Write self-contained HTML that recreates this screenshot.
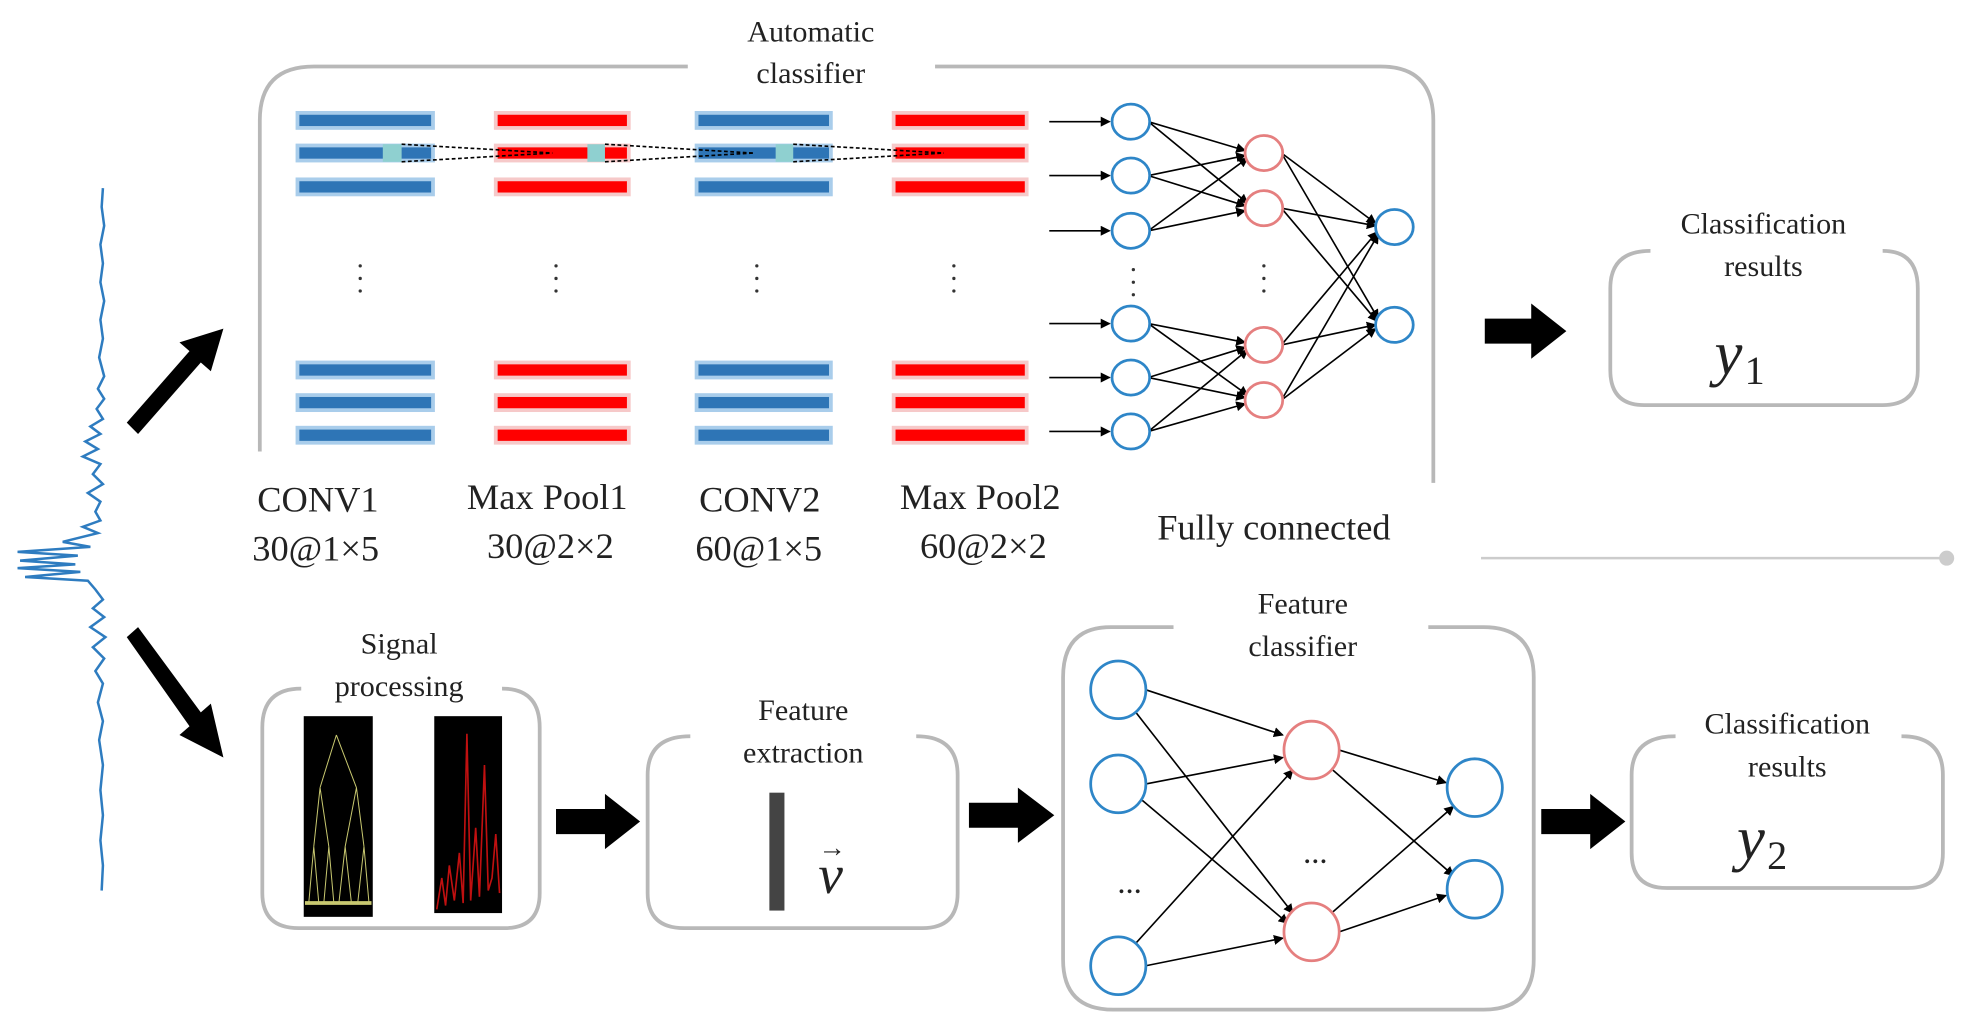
<!DOCTYPE html>
<html><head><meta charset="utf-8"><style>
html,body{margin:0;padding:0;background:#fff;}
svg{display:block;}
svg text{font-family:"Liberation Serif","DejaVu Serif","Times New Roman",serif !important;fill:#222;}
</style></head><body>
<svg width="1968" height="1036" viewBox="0 0 1568 826" preserveAspectRatio="none" xmlns="http://www.w3.org/2000/svg" font-family="Liberation Serif, DejaVu Serif, serif">
<defs>
<marker id="ah" markerWidth="8" markerHeight="8" refX="7" refY="4" orient="auto" markerUnits="userSpaceOnUse"><path d="M0,0 L8,4 L0,8 z" fill="#000"/></marker>
</defs>
<g fill="none" stroke="#b8b8b8" stroke-width="3">
<path d="M548,53 H250 Q207,53 207,96 V360"/>
<path d="M745,53 H1100 Q1142,53 1142,96 V385"/>
<path d="M1315,200 Q1283,200 1283,230 V295 Q1283,323 1310,323 H1500 Q1528,323 1528,295 V230 Q1528,200 1500,200"/>
<path d="M240,549 Q209,549 209,580 V712 Q209,740 238,740 H402 Q430,740 430,712 V580 Q430,549 400,549"/>
<path d="M550,587 Q516,587 516,618 V712 Q516,740 545,740 H735 Q763,740 763,712 V618 Q763,587 730,587"/>
<path d="M935,500 H885 Q847,500 847,540 V765 Q847,805 887,805 H1182 Q1222,805 1222,765 V540 Q1222,500 1182,500 H1138"/>
<path d="M1335,587 Q1300,587 1300,618 V680 Q1300,708 1328,708 H1520 Q1548,708 1548,680 V618 Q1548,587 1515,587"/>
</g>
<line x1="1180" y1="445" x2="1550" y2="445" stroke="#ccc" stroke-width="2"/>
<circle cx="1551" cy="445" r="6" fill="#ccc"/>
<g font-size="24" text-anchor="middle">
<text x="646" y="33">Automatic</text><text x="646" y="66">classifier</text>
<text x="1405" y="186">Classification</text><text x="1405" y="220">results</text>
<text x="318" y="521">Signal</text><text x="318" y="555">processing</text>
<text x="640" y="574">Feature</text><text x="640" y="608">extraction</text>
<text x="1038" y="489">Feature</text><text x="1038" y="523">classifier</text>
<text x="1424" y="585">Classification</text><text x="1424" y="619">results</text>
</g>
<g stroke-width="3">
<g fill="#2e75b6" stroke="#a9cdeb">
<rect x="237" y="90" width="108" height="12"/><rect x="237" y="116" width="108" height="12"/><rect x="237" y="143" width="108" height="12"/>
<rect x="237" y="289" width="108" height="12"/><rect x="237" y="315" width="108" height="12"/><rect x="237" y="341" width="108" height="12"/>
<rect x="555" y="90" width="107" height="12"/><rect x="555" y="116" width="107" height="12"/><rect x="555" y="143" width="107" height="12"/>
<rect x="555" y="289" width="107" height="12"/><rect x="555" y="315" width="107" height="12"/><rect x="555" y="341" width="107" height="12"/>
</g>
<g fill="#ff0000" stroke="#f6c9c9">
<rect x="395" y="90" width="106" height="12"/><rect x="395" y="116" width="106" height="12"/><rect x="395" y="143" width="106" height="12"/>
<rect x="395" y="289" width="106" height="12"/><rect x="395" y="315" width="106" height="12"/><rect x="395" y="341" width="106" height="12"/>
<rect x="712" y="90" width="106" height="12"/><rect x="712" y="116" width="106" height="12"/><rect x="712" y="143" width="106" height="12"/>
<rect x="712" y="289" width="106" height="12"/><rect x="712" y="315" width="106" height="12"/><rect x="712" y="341" width="106" height="12"/>
</g>
</g>
<g fill="#8fd0d0"><rect x="305" y="115" width="15" height="14"/><rect x="468" y="115" width="14" height="14"/><rect x="618" y="115" width="14" height="14"/></g>
<g stroke="#000" stroke-width="1.3" stroke-dasharray="3,2">
<line x1="320" y1="115" x2="440" y2="122"/><line x1="320" y1="129" x2="440" y2="122"/>
<line x1="482" y1="115" x2="600" y2="122"/><line x1="482" y1="129" x2="600" y2="122"/>
<line x1="632" y1="115" x2="752" y2="122"/><line x1="632" y1="129" x2="752" y2="122"/>
</g>
<g fill="#333">
<circle cx="287" cy="212" r="1.3"/><circle cx="287" cy="222" r="1.3"/><circle cx="287" cy="232" r="1.3"/>
<circle cx="443" cy="212" r="1.3"/><circle cx="443" cy="222" r="1.3"/><circle cx="443" cy="232" r="1.3"/>
<circle cx="603" cy="212" r="1.3"/><circle cx="603" cy="222" r="1.3"/><circle cx="603" cy="232" r="1.3"/>
<circle cx="760" cy="212" r="1.3"/><circle cx="760" cy="222" r="1.3"/><circle cx="760" cy="232" r="1.3"/>
<circle cx="903" cy="215" r="1.3"/><circle cx="903" cy="225" r="1.3"/><circle cx="903" cy="235" r="1.3"/>
<circle cx="1007" cy="212" r="1.3"/><circle cx="1007" cy="222" r="1.3"/><circle cx="1007" cy="232" r="1.3"/>
</g>
<g font-size="29">
<text x="205" y="408">CONV1</text><text x="201" y="447">30@1×5</text>
<text x="372" y="406">Max Pool1</text><text x="388" y="445">30@2×2</text>
<text x="557" y="408">CONV2</text><text x="554" y="447">60@1×5</text>
<text x="717" y="406">Max Pool2</text><text x="733" y="445">60@2×2</text>
<text x="922" y="430">Fully connected</text>
</g>
<g stroke="#000" stroke-width="1.3" marker-end="url(#ah)">
<line x1="836" y1="97" x2="884" y2="97"/><line x1="836" y1="140" x2="884" y2="140"/><line x1="836" y1="184" x2="884" y2="184"/>
<line x1="836" y1="258" x2="884" y2="258"/><line x1="836" y1="301" x2="884" y2="301"/><line x1="836" y1="344" x2="884" y2="344"/>
<line x1="915" y1="97" x2="992" y2="120"/><line x1="915" y1="97" x2="994" y2="162"/>
<line x1="915" y1="140" x2="992" y2="124"/><line x1="915" y1="140" x2="992" y2="164"/>
<line x1="915" y1="184" x2="994" y2="126"/><line x1="915" y1="184" x2="992" y2="168"/>
<line x1="915" y1="258" x2="992" y2="273"/><line x1="915" y1="258" x2="994" y2="315"/>
<line x1="915" y1="301" x2="992" y2="277"/><line x1="915" y1="301" x2="992" y2="317"/>
<line x1="915" y1="344" x2="994" y2="279"/><line x1="915" y1="344" x2="992" y2="322"/>
<line x1="1021" y1="122" x2="1096" y2="178"/><line x1="1021" y1="122" x2="1098" y2="254"/>
<line x1="1021" y1="166" x2="1096" y2="180"/><line x1="1021" y1="166" x2="1097" y2="256"/>
<line x1="1021" y1="275" x2="1097" y2="185"/><line x1="1021" y1="275" x2="1096" y2="259"/>
<line x1="1021" y1="319" x2="1098" y2="187"/><line x1="1021" y1="319" x2="1096" y2="262"/>
</g>
<g fill="#fff" stroke-width="2.2">
<g stroke="#2e86c8">
<ellipse cx="901" cy="97" rx="15" ry="14"/><ellipse cx="901" cy="140" rx="15" ry="14"/><ellipse cx="901" cy="184" rx="15" ry="14"/>
<ellipse cx="901" cy="258" rx="15" ry="14"/><ellipse cx="901" cy="301" rx="15" ry="14"/><ellipse cx="901" cy="344" rx="15" ry="14"/>
<ellipse cx="1111" cy="181" rx="15" ry="14"/><ellipse cx="1111" cy="259" rx="15" ry="14"/>
</g>
<g stroke="#e57f7f">
<ellipse cx="1007" cy="122" rx="15" ry="14"/><ellipse cx="1007" cy="166" rx="15" ry="14"/>
<ellipse cx="1007" cy="275" rx="15" ry="14"/><ellipse cx="1007" cy="319" rx="15" ry="14"/>
</g>
</g>
<path fill="none" stroke="#2e7cc0" stroke-width="2" d="M82,150 L81,165 L83,180 L80,195 L82,210 L80,225 L83,240 L80,255 L82,270 L79,285 L83,300 L78,310 L83,318 L77,326 L82,334 L72,340 L80,346 L68,352 L78,358 L66,364 L80,370 L74,378 L82,386 L70,393 L80,400 L76,408 L80,415 L66,420 L78,425 L50,432 L72,436 L14,440 L62,443 L16,447 L60,450 L14,453 L64,456 L20,460 L70,463 L76,470 L82,478 L74,485 L83,492 L72,500 L84,508 L74,516 L83,525 L76,535 L82,545 L78,560 L82,575 L79,590 L82,610 L80,630 L82,650 L80,670 L82,690 L81,710"/>
<g fill="#000">
<polygon points="101,337 151,280 143,273 178,262 168,296 160,289 110,346"/>
<polygon points="110,500 160,568 168,561 178,604 143,586 151,579 101,508"/>
<polygon points="1183,254 1220,254 1220,242 1248,264 1220,286 1220,274 1183,274"/>
<polygon points="443,645 482,645 482,633 510,655 482,677 482,665 443,665"/>
<polygon points="772,640 811,640 811,628 840,650 811,672 811,660 772,660"/>
<polygon points="1228,645 1267,645 1267,633 1295,655 1267,677 1267,665 1228,665"/>
</g>
<rect x="242" y="571" width="55" height="160" fill="#000"/>
<g stroke="#c8c870" stroke-width="0.8" fill="none">
<path d="M268,586 L255,628 M268,586 L284,628 M255,628 L250,675 M255,628 L262,675 M284,628 L275,675 M284,628 L290,675 M250,675 L246,720 M250,675 L254,720 M262,675 L258,720 M262,675 L266,720 M275,675 L270,720 M275,675 L280,720 M290,675 L285,720 M290,675 L294,720"/>
<line x1="243" y1="720" x2="296" y2="720" stroke-width="3"/>
</g>
<rect x="346" y="571" width="54" height="157" fill="#000"/>
<path fill="none" stroke="#c01010" stroke-width="1.3" d="M348,725 L352,700 L355,722 L358,690 L362,718 L366,680 L369,720 L372,585 L375,718 L379,660 L382,715 L386,610 L389,710 L392,700 L395,665 L398,712"/>
<rect x="613" y="632" width="12" height="94" fill="#444"/>
<text x="652" y="712" font-size="44" font-style="italic">v</text>
<text x="652" y="683" font-size="22">→</text>
<g stroke="#000" stroke-width="1.3" marker-end="url(#ah)">
<line x1="913" y1="550" x2="1022" y2="586"/><line x1="905" y1="568" x2="1030" y2="728"/>
<line x1="913" y1="625" x2="1022" y2="604"/><line x1="910" y1="638" x2="1026" y2="736"/>
<line x1="905" y1="752" x2="1030" y2="614"/><line x1="913" y1="770" x2="1022" y2="748"/>
<line x1="1067" y1="598" x2="1152" y2="624"/><line x1="1062" y1="614" x2="1158" y2="698"/>
<line x1="1062" y1="727" x2="1158" y2="643"/><line x1="1067" y1="743" x2="1152" y2="714"/>
</g>
<g fill="#fff" stroke-width="2.2">
<g stroke="#2e86c8">
<ellipse cx="891" cy="550" rx="22" ry="23"/><ellipse cx="891" cy="625" rx="22" ry="23"/><ellipse cx="891" cy="770" rx="22" ry="23"/>
<ellipse cx="1175" cy="628" rx="22" ry="23"/><ellipse cx="1175" cy="709" rx="22" ry="23"/>
</g>
<g stroke="#e57f7f">
<ellipse cx="1045" cy="598" rx="22" ry="23"/><ellipse cx="1045" cy="743" rx="22" ry="23"/>
</g>
</g>
<text x="900" y="712" font-size="26" text-anchor="middle">...</text>
<text x="1048" y="688" font-size="26" text-anchor="middle">...</text>
<text x="1366" y="298" font-size="50" font-style="italic">y</text><text x="1390" y="306" font-size="32">1</text>
<text x="1384" y="685" font-size="50" font-style="italic">y</text><text x="1408" y="693" font-size="32">2</text>
</svg>
</body></html>
